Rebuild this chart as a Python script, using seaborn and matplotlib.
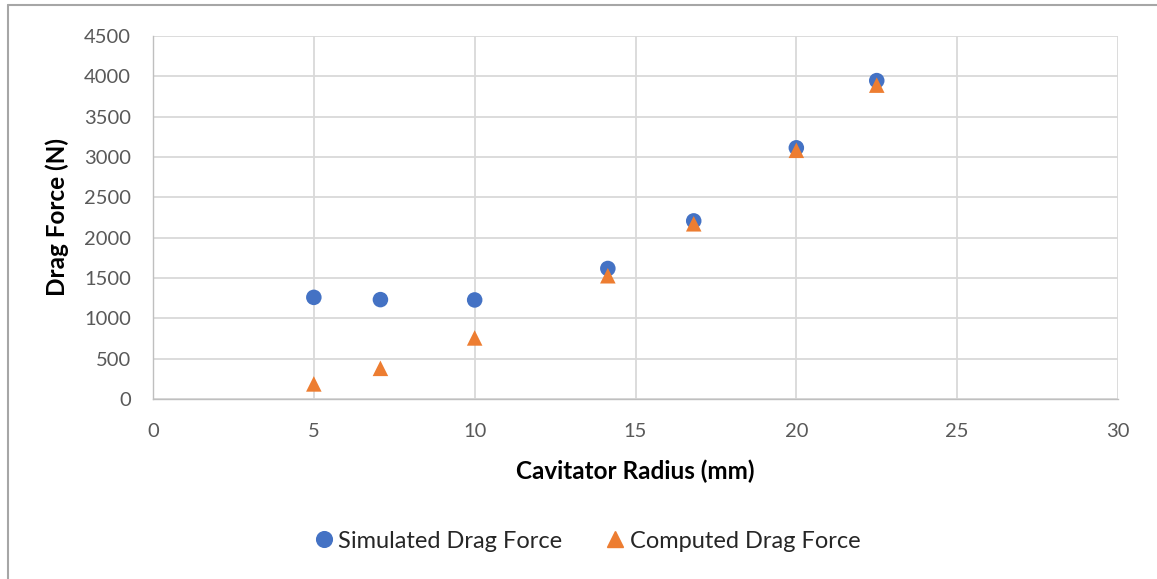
import matplotlib
matplotlib.use("Agg")
import matplotlib.pyplot as plt
import seaborn as sns
import pandas as pd
from matplotlib.lines import Line2D

radius = [5, 7.07, 10, 14.14, 16.81, 20, 22.5]
simulated = [1260, 1232, 1228, 1618, 2208, 3114, 3947]
computed = [187, 380, 757, 1528, 2172, 3083, 3891]
series_names = ["Simulated Drag Force", "Computed Drag Force"]
xticks = [0, 5, 10, 15, 20, 25, 30]
yticks = [0, 500, 1000, 1500, 2000, 2500, 3000, 3500, 4000, 4500]

sns.set_theme(style="white")
plt.rcParams['font.family'] = ['Lato', 'DejaVu Sans']

df = pd.DataFrame({
    "radius": radius * 2,
    "force": simulated + computed,
    "series": [series_names[0]] * len(radius) + [series_names[1]] * len(radius),
})

fig = plt.figure(figsize=(11.57, 5.79), dpi=100)
ax = fig.add_axes([153/1157, 1 - 399/579, (1118-153)/1157, (399-36)/579])

palette = {series_names[0]: "#4472C4", series_names[1]: "#ED7D31"}
markers = {series_names[0]: "o", series_names[1]: "^"}
sns.scatterplot(data=df, x="radius", y="force", hue="series", style="series",
                palette=palette, markers=markers, s=125, linewidth=0, ax=ax,
                legend=False, zorder=3)

ax.set_xlim(0, 30)
ax.set_ylim(0, 4500)
ax.set_xticks(xticks)
ax.set_yticks(yticks)
ax.grid(True, color="#d9d9d9", linewidth=1.3)
ax.set_axisbelow(True)
for s in ["top", "right"]:
    ax.spines[s].set_visible(False)
for s in ["left", "bottom"]:
    ax.spines[s].set_color("#bfbfbf")
    ax.spines[s].set_linewidth(1.0)
ax.tick_params(axis="both", labelsize=14.5, colors="#595959", length=0)
ax.tick_params(axis="y", pad=16)
ax.tick_params(axis="x", pad=17)
ax.set_xlabel("Cavitator Radius (mm)", fontsize=17.5, fontweight="bold", color="black")
ax.set_ylabel("Drag Force (N)", fontsize=17.5, fontweight="bold", color="black")
ax.xaxis.label.set_va("center")
ax.xaxis.set_label_coords(0.4995, (399 - 471) / 363)
ax.yaxis.label.set_va("center")
ax.yaxis.label.set_ha("center")
ax.yaxis.set_label_coords((57 - 153) / 965, 0.5)

handles = [
    Line2D([], [], marker="o", color="#4472C4", linestyle="none", markersize=11.3),
    Line2D([], [], marker="^", color="#ED7D31", linestyle="none", markersize=11.3),
]
fig.legend(handles, series_names, loc="center", bbox_to_anchor=(588/1157, 1 - 541/579),
           ncol=2, frameon=False, fontsize=17, handletextpad=0.25, columnspacing=1.9,
           handlelength=0.7, borderpad=0.2)

border_color = "#a6a6a6"
fig.add_artist(Line2D([7.5/1157, 1], [1 - 5/579, 1 - 5/579], transform=fig.transFigure,
                      color=border_color, linewidth=1.5))
fig.add_artist(Line2D([7.5/1157, 7.5/1157], [0, 1 - 5/579], transform=fig.transFigure,
                      color=border_color, linewidth=1.5))

fig.savefig("out.png", dpi=100)
